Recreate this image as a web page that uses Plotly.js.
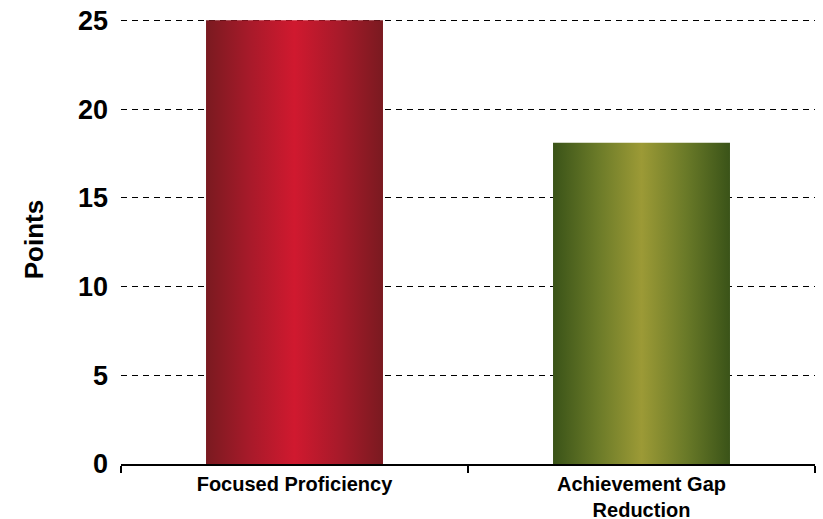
<!DOCTYPE html>
<html>
<head>
<meta charset="utf-8">
<script src="https://cdn.plot.ly/plotly-3.0.1.min.js"></script>
<style>html,body{margin:0;padding:0;background:#fff;}#chart{width:823px;height:519px;}</style>
</head>
<body>
<div id="chart"></div>
<script>
const categories = ["Focused Proficiency", "Achievement Gap<br>Reduction"];
const points = [25, 18.1];
const yTicks = [0, 5, 10, 15, 20, 25];
const gradientIds = ["gradRed", "gradGreen"];

const trace = {
  type: "bar",
  x: categories,
  y: points,
  width: 0.51,
  marker: { color: ["#b01a2a", "#6a7a28"], line: { width: 0 } },
  hoverinfo: "none"
};

const FONT = "Liberation Sans, Arial, sans-serif";

const layout = {
  width: 823,
  height: 519,
  margin: { l: 121, r: 8, t: 15, b: 55 },
  paper_bgcolor: "#ffffff",
  plot_bgcolor: "#ffffff",
  showlegend: false,
  xaxis: {
    type: "category",
    showline: true,
    linecolor: "#000",
    linewidth: 1.5,
    ticks: "outside",
    tickson: "boundaries",
    ticklen: 7,
    tickcolor: "#000",
    tickwidth: 1.2,
    showgrid: false,
    ticklabelstandoff: 1,
    tickfont: { family: FONT, size: 20, color: "#000", weight: "bold" },
    automargin: false
  },
  yaxis: {
    range: [0, 25.3],
    tickvals: yTicks,
    showline: false,
    zeroline: false,
    ticks: "",
    ticklabelstandoff: 12,
    showgrid: true,
    gridcolor: "#000",
    gridwidth: 1,
    griddash: "6px,5px",
    tickfont: { family: FONT, size: 27, color: "#000", weight: "bold" },
    title: { text: "Points", standoff: 26, font: { family: FONT, size: 26, color: "#000", weight: "bold" } },
    automargin: false
  }
};

function addGradients() {
  const svg = document.querySelector("#chart .main-svg");
  if (!svg) return;
  const ns = "http://www.w3.org/2000/svg";
  let defs = svg.querySelector("defs");
  if (!defs) { defs = document.createElementNS(ns, "defs"); svg.insertBefore(defs, svg.firstChild); }
  const specs = {
    gradRed: ["#7a1a20", "#a81a2a", "#d0192f", "#a81a2a", "#7a1a20"],
    gradGreen: ["#3a5318", "#6a7a28", "#9c9a36", "#6a7a28", "#3a5318"]
  };
  Object.keys(specs).forEach(id => {
    if (document.getElementById(id)) return;
    const g = document.createElementNS(ns, "linearGradient");
    g.setAttribute("id", id);
    g.setAttribute("x1", "0"); g.setAttribute("x2", "1");
    g.setAttribute("y1", "0"); g.setAttribute("y2", "0");
    const cols = specs[id];
    cols.forEach((c, i) => {
      const s = document.createElementNS(ns, "stop");
      s.setAttribute("offset", (i / (cols.length - 1) * 100) + "%");
      s.setAttribute("stop-color", c);
      g.appendChild(s);
    });
    defs.appendChild(g);
  });
  const paths = document.querySelectorAll("#chart .trace.bars .point path");
  paths.forEach((p, i) => {
    p.style.fill = "url(#" + gradientIds[i] + ")";
  });
}

Plotly.newPlot("chart", [trace], layout, { displayModeBar: false, staticPlot: true }).then(addGradients);
</script>
</body>
</html>
